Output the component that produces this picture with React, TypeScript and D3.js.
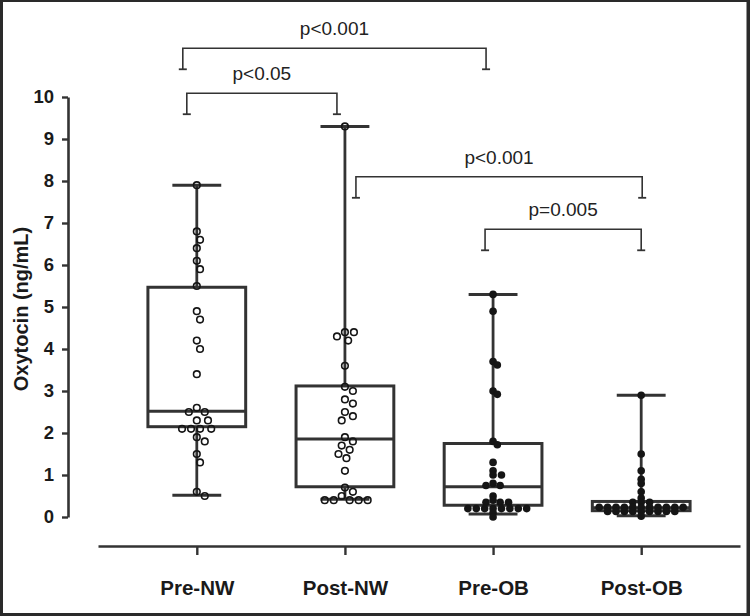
import React, { useEffect, useRef } from 'react';
import * as d3 from 'd3';

// ---------- data ----------
const categories = ['Pre-NW', 'Post-NW', 'Pre-OB', 'Post-OB'];
const filledGroup = [false, false, true, true];

const preNW = [7.9, 6.8, 6.6, 6.4, 6.1, 5.9, 5.5, 4.9, 4.7, 4.2, 4.0, 3.4, 2.6, 2.5, 2.5, 2.3, 2.3, 2.1, 2.1, 2.1, 2.1, 1.9, 1.8, 1.5, 1.3, 0.6, 0.5];
const postNW = [9.3, 4.4, 4.4, 4.3, 4.2, 3.6, 3.1, 3.0, 2.8, 2.7, 2.5, 2.4, 2.3, 1.9, 1.8, 1.7, 1.6, 1.5, 1.4, 1.1, 0.7, 0.6, 0.5, 0.4, 0.4, 0.4, 0.4, 0.4];
const preOB = [5.3, 4.9, 3.7, 3.62, 3.0, 2.92, 1.8, 1.72, 1.3, 1.1, 1.0, 1.0, 0.8, 0.75, 0.75, 0.5, 0.4, 0.35, 0.35, 0.35, 0.2, 0.2, 0.2, 0.2, 0.2, 0.2, 0.2, 0.2, 0.1, 0.0];
const postOB = [2.9, 1.5, 1.1, 0.9, 0.8, 0.6, 0.45, 0.35, 0.35, 0.35, 0.23, 0.23, 0.23, 0.23, 0.23, 0.23, 0.23, 0.23, 0.23, 0.23, 0.23, 0.13, 0.13, 0.13, 0.13, 0.13, 0.13, 0.13, 0.13, 0.13, 0.02];
const groupValues = [preNW, postNW, preOB, postOB];

const boxMin = [0.52, 0.42, 0.07, 0.03];
const boxQ1 = [2.15, 0.72, 0.28, 0.15];
const boxMedian = [2.52, 1.86, 0.72, 0.22];
const boxQ3 = [5.47, 3.12, 1.75, 0.37];
const boxMax = [7.9, 9.3, 5.3, 2.9];

const yTicks = [0, 1, 2, 3, 4, 5, 6, 7, 8, 9, 10];

const bracketFrom = ['Pre-NW', 'Pre-NW', 'Post-NW', 'Pre-OB'];
const bracketTo = ['Pre-OB', 'Post-NW', 'Post-OB', 'Post-OB'];
const bracketLevel = [11.16, 10.09, 8.1, 6.85];
const bracketLabels = ['p<0.001', 'p<0.05', 'p<0.001', 'p=0.005'];

// ---------- style ----------
const W = 750;
const H = 616;
const FONT = "'Liberation Sans', Arial, Helvetica, sans-serif";
const LINE = '#333';
const DOT = '#151515';
const bracketOffFrom = [-14, -10, 11, -8];
const bracketOffTo = [-7, -8, 1, 0];
const LEG = 21;

// elliptical-collision beeswarm: points collide when (dx/sx)^2 + (dy/sy)^2 < 1
function swarm(values: number[], y: (v: number) => number, sx: number, sy: number): number[] {
  const placed: { x: number; y: number }[] = [];
  const hits = (c: number, py: number) =>
    placed.some((p) => ((p.x - c) / sx) ** 2 + ((p.y - py) / sy) ** 2 < 1 - 1e-6);
  return values.map((v) => {
    const py = y(v);
    const cands = [0];
    for (const p of placed) {
      const dy = Math.abs(p.y - py);
      if (dy < sy) {
        const dx = sx * Math.sqrt(1 - (dy / sy) ** 2);
        cands.push(p.x + dx, p.x - dx);
      }
    }
    cands.sort((a, b) => Math.abs(a) - Math.abs(b) || b - a);
    for (const c of cands) {
      if (!hits(c, py)) {
        placed.push({ x: c, y: py });
        return c;
      }
    }
    return 0;
  });
}

export default function App() {
  const yAxisRef = useRef<SVGGElement>(null);
  const xAxisRef = useRef<SVGGElement>(null);

  const x = d3.scalePoint<string>().domain(categories).range([98, 740]).padding(0.667);
  const y = d3.scaleLinear().domain([0, 10]).range([517, 97]);
  const step = x.step();
  const boxW = step * 0.66;
  const capW = step * 0.33;
  const xAxisY = 546;

  useEffect(() => {
    if (yAxisRef.current) {
      const g = d3.select(yAxisRef.current);
      g.selectAll('*').remove();
      g.call(d3.axisLeft(y).tickValues(yTicks).tickFormat(d3.format('d')).tickSize(6).tickSizeOuter(0).tickPadding(8));
      g.select('.domain').attr('stroke', LINE).attr('stroke-width', 2.6);
      g.selectAll('.tick line').attr('stroke', LINE).attr('stroke-width', 2.4);
      g.selectAll('.tick text')
        .attr('font-family', FONT)
        .attr('font-size', 18.5)
        .attr('font-weight', 'bold')
        .attr('fill', '#1a1a1a');
    }
    if (xAxisRef.current) {
      const g = d3.select(xAxisRef.current);
      g.selectAll('*').remove();
      g.call(d3.axisBottom(x).tickSize(9).tickSizeOuter(0).tickPadding(25));
      g.select('.domain').attr('stroke', LINE).attr('stroke-width', 2.6);
      g.selectAll('.tick line').attr('stroke', LINE).attr('stroke-width', 2.4);
      g.selectAll('.tick text')
        .attr('font-family', FONT)
        .attr('font-size', 20.5)
        .attr('font-weight', 'bold')
        .attr('fill', '#1a1a1a');
    }
  });

  return (
    <svg
      width={W}
      height={H}
      viewBox={`0 0 ${W} ${H}`}
      style={{ position: 'absolute', left: 0, top: 0, display: 'block', background: '#fff' }}
    >
      <rect x={0} y={0} width={W} height={H} fill="#fff" />
      {/* frame */}
      <rect x={0} y={0} width={3} height={H} fill="#2a2a2a" />
      <rect x={0} y={0} width={W} height={2} fill="#2a2a2a" />
      <rect x={W - 3.5} y={0} width={3.5} height={H} fill="#2a2a2a" />
      <rect x={0} y={H - 3} width={W} height={3} fill="#2a2a2a" />

      <g ref={yAxisRef} transform="translate(68,0)" />
      <g ref={xAxisRef} transform={`translate(0,${xAxisY})`} />

      <text
        transform={`translate(21,${y(5) + 2}) rotate(-90)`}
        textAnchor="middle"
        dominantBaseline="central"
        fontFamily={FONT}
        fontSize={20}
        fontWeight="bold"
        fill="#1a1a1a"
      >
        Oxytocin (ng/mL)
      </text>

      {/* boxes */}
      {categories.map((c, i) => {
        const cx = x(c) as number;
        return (
          <g key={c} stroke={LINE} fill="none">
            <line x1={cx} x2={cx} y1={y(boxMax[i])} y2={y(boxQ3[i])} strokeWidth={2.8} />
            <line x1={cx} x2={cx} y1={y(boxQ1[i])} y2={y(boxMin[i])} strokeWidth={2.8} />
            <line x1={cx - capW / 2} x2={cx + capW / 2} y1={y(boxMax[i])} y2={y(boxMax[i])} strokeWidth={3} />
            <line x1={cx - capW / 2} x2={cx + capW / 2} y1={y(boxMin[i])} y2={y(boxMin[i])} strokeWidth={3} />
            <rect x={cx - boxW / 2} y={y(boxQ3[i])} width={boxW} height={y(boxQ1[i]) - y(boxQ3[i])} strokeWidth={3} />
            <line x1={cx - boxW / 2} x2={cx + boxW / 2} y1={y(boxMedian[i])} y2={y(boxMedian[i])} strokeWidth={3} />
          </g>
        );
      })}

      {/* points */}
      {categories.map((c, i) => {
        const cx = x(c) as number;
        const filled = filledGroup[i];
        const offs = filled ? swarm(groupValues[i], y, 8.4, 3.9) : swarm(groupValues[i], y, 9, 9);
        return (
          <g key={'p' + c}>
            {groupValues[i].map((v, j) => (
              <circle
                key={j}
                cx={cx + offs[j]}
                cy={y(v)}
                r={filled ? 3.8 : 3.3}
                fill={filled ? DOT : 'none'}
                stroke={DOT}
                strokeWidth={filled ? 0 : 1.6}
              />
            ))}
          </g>
        );
      })}

      {/* significance brackets */}
      {bracketLabels.map((lab, i) => {
        const x1 = (x(bracketFrom[i]) as number) + bracketOffFrom[i];
        const x2 = (x(bracketTo[i]) as number) + bracketOffTo[i];
        const yl = y(bracketLevel[i]);
        return (
          <g key={'b' + i}>
            <path
              d={`M${x1},${yl + LEG}V${yl}H${x2}V${yl + LEG}`}
              fill="none"
              stroke={LINE}
              strokeWidth={1.6}
            />
            <line x1={x1 - 4} x2={x1 + 4} y1={yl + LEG} y2={yl + LEG} stroke={LINE} strokeWidth={1.8} />
            <line x1={x2 - 4} x2={x2 + 4} y1={yl + LEG} y2={yl + LEG} stroke={LINE} strokeWidth={1.8} />
            <text
              x={(x1 + x2) / 2}
              y={yl - 13}
              textAnchor="middle"
              fontFamily={FONT}
              fontSize={19}
              fill="#222"
            >
              {lab}
            </text>
          </g>
        );
      })}
    </svg>
  );
}
